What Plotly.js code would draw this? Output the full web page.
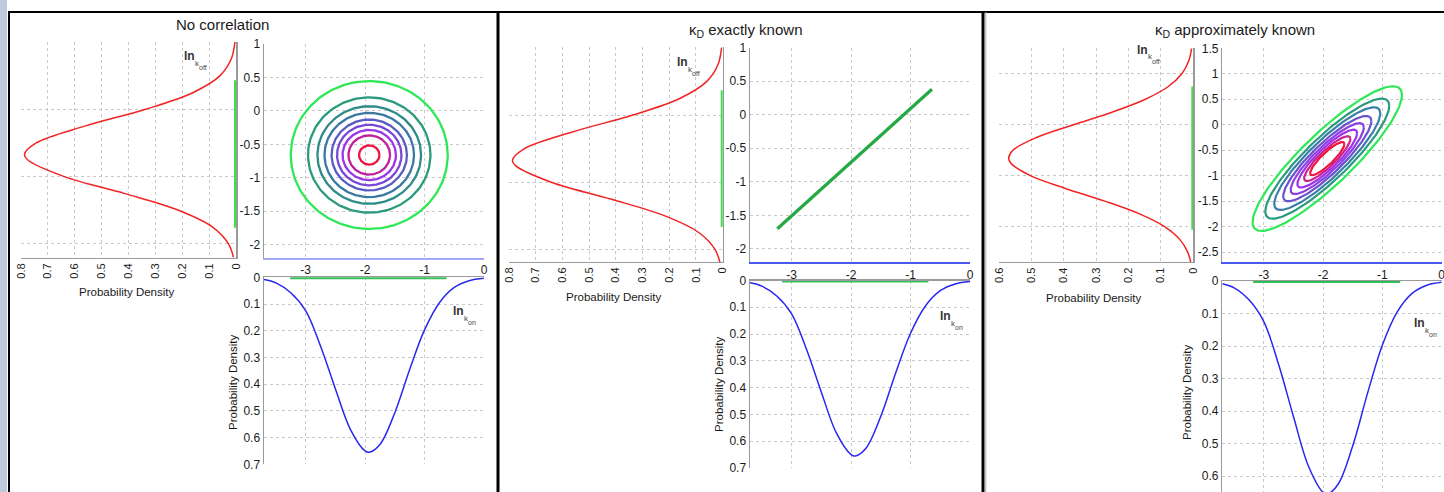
<!DOCTYPE html>
<html><head><meta charset="utf-8">
<script src="https://cdn.plot.ly/plotly-3.0.1.min.js"></script>
<style>html,body{margin:0;padding:0;background:#fff;overflow:hidden}#c{width:1444px;height:492px}</style>
</head><body><div id="c"></div><script>
// ---- data ----
const konX   = [-3.7,-3.5,-3.25,-3,-2.75,-2.5,-2.25,-2,-1.93,-1.75,-1.5,-1.25,-1,-0.75,-0.5,-0.25,0];
const konPdf = [0.0085,0.021,0.058,0.125,0.257,0.417,0.568,0.650,0.655,0.626,0.507,0.345,0.197,0.095,0.038,0.013,0.004];
const koffY   = [1.0,0.75,0.5,0.25,0,-0.25,-0.5,-0.67,-0.75,-1.0,-1.25,-1.5,-1.75,-2.0,-2.2];
const koffPdf = [0.0041,0.0175,0.0593,0.159,0.3365,0.5627,0.7434,0.787,0.7756,0.639,0.416,0.214,0.087,0.0279,0.0095];
const koffY3   = [1.5,1.25,1.0,0.75,0.5,0.25,0,-0.25,-0.5,-0.65,-0.75,-1.0,-1.25,-1.5,-1.75,-2.0,-2.25,-2.5,-2.7];
const koffPdf3 = [0.0051,0.0143,0.0354,0.0771,0.148,0.249,0.370,0.484,0.557,0.570,0.564,0.503,0.395,0.273,0.166,0.0888,0.0418,0.0173,0.0078];

// contour rings: centre, outer half-extents, correlation, relative sizes
const ring1Center = [-1.93, -0.66];
const ring1Outer  = [1.32, 1.105];
const ring1Rho    = 0;
const ring1Scale  = [1, 0.78, 0.66, 0.57, 0.48, 0.41, 0.34, 0.265, 0.13];
const ring1Colors = ['#2ee858','#2a9a7c','#2d8c88','#3a78a4','#5a5cc4','#7a46d8','#9a36e8','#c0209a','#ee1240'];
const ring3Center = [-1.93, -0.665];
const ring3Outer  = [1.26, 1.42];
const ring3Rho    = 0.88;
const ring3Scale  = [1, 0.83, 0.71, 0.59, 0.49, 0.40, 0.31, 0.23];
const ring3Colors = ['#2ee858','#2a9a7c','#3a7eaa','#6a52cc','#8c40e0','#a030ee','#cc2288','#ee1240'];

// panel 2 line (exactly known)
const lineX = [-3.24, -0.64];
const lineY = [-1.70, 0.38];

// green projections of the outer contour on the marginal axes
const seg1Y = [-1.76, 0.43], seg1X = [-3.26, -0.63];
const seg2Y = [-1.66, 0.37], seg2X = [-3.16, -0.70];
const seg3Y = [-2.06, 0.75], seg3X = [-3.18, -0.70];

// tick labels
const jXvals = [-3,-2,-1,0], jXtext = ['-3','-2','-1','0'];
const j1Yvals = [1,0.5,0,-0.5,-1,-1.5,-2], j1Ytext = ['1','0.5','0','-0.5','-1','-1.5','-2'];
const j3Yvals = [1.5,1,0.5,0,-0.5,-1,-1.5,-2,-2.5], j3Ytext = ['1.5','1','0.5','0','-0.5','-1','-1.5','-2','-2.5'];
const pdfVals = [0,0.1,0.2,0.3,0.4,0.5,0.6,0.7], pdfText = ['0','0.1','0.2','0.3','0.4','0.5','0.6','0.7'];
const pdfVals8 = [0.8,0.7,0.6,0.5,0.4,0.3,0.2,0.1,0], pdfText8 = ['0.8','0.7','0.6','0.5','0.4','0.3','0.2','0.1','0'];
const pdfVals6 = [0.6,0.5,0.4,0.3,0.2,0.1,0], pdfText6 = ['0.6','0.5','0.4','0.3','0.2','0.1','0'];

// ---- layout helpers ----
const W=1444,H=492;
function dx(a,b){return [a/W,b/W];}
function dy(t,b){return [1-b/H,1-t/H];}
const FONT='"Liberation Sans", Arial, sans-serif';
const GRID='#c8c8c8', SPINE='#9a9a9a';
function ax(o){
  const base={showgrid:true,gridcolor:GRID,griddash:'dot',gridwidth:1,zeroline:false,ticks:'',
    showline:false,fixedrange:true,ticklabeloverflow:'allow',tickfont:{family:FONT,size:12,color:'#1a1a1a'}};
  return Object.assign(base,o);
}
function arr(v,t){return {tickmode:'array',tickvals:v,ticktext:t};}

function ellipse(c,outer,rho,s){
  const xs=[],ys=[],q=Math.sqrt(1-rho*rho),n=180;
  for(let i=0;i<=n;i++){const t=2*Math.PI*i/n;
    xs.push(c[0]+s*outer[0]*Math.cos(t));
    ys.push(c[1]+s*outer[1]*(rho*Math.cos(t)+q*Math.sin(t)));}
  return [xs,ys];
}

const traces=[];
function panel(k, koY, koP, segY, segX, segCol){
  const xl='x'+(k*3+1===1?'':k*3+1), yl='y'+(k*3+1===1?'':k*3+1);
  const xb='x'+(k*3+3), yb='y'+(k*3+3);
  traces.push({x:koP,y:koY,xaxis:xl,yaxis:yl,mode:'lines',line:{color:'#f02424',width:1.5,shape:'spline'},hoverinfo:'skip'});
  traces.push({x:[0,0],y:segY,xaxis:xl,yaxis:yl,mode:'lines',line:{color:'#3ee04c',width:4},hoverinfo:'skip'});
  traces.push({x:konX,y:konPdf,xaxis:xb,yaxis:yb,mode:'lines',line:{color:'#2828f0',width:1.5,shape:'spline'},hoverinfo:'skip'});
  traces.push({x:segX,y:[0,0],xaxis:xb,yaxis:yb,mode:'lines',line:{color:segCol,width:4},hoverinfo:'skip'});
}
panel(0,koffY,koffPdf,seg1Y,seg1X,'#34c058');
panel(1,koffY,koffPdf,seg2Y,seg2X,'#34c058');
panel(2,koffY3,koffPdf3,seg3Y,seg3X,'#34c058');

ring1Scale.forEach((s,i)=>{const e=ellipse(ring1Center,ring1Outer,ring1Rho,s);
  traces.push({x:e[0],y:e[1],xaxis:'x2',yaxis:'y2',mode:'lines',line:{color:ring1Colors[i],width:2.3},hoverinfo:'skip'});});
traces.push({x:lineX,y:lineY,xaxis:'x5',yaxis:'y5',mode:'lines',line:{color:'#26a844',width:3.2},hoverinfo:'skip'});
ring3Scale.forEach((s,i)=>{const e=ellipse(ring3Center,ring3Outer,ring3Rho,s);
  traces.push({x:e[0],y:e[1],xaxis:'x8',yaxis:'y8',mode:'lines',line:{color:ring3Colors[i],width:2.2},hoverinfo:'skip'});});

const layout={width:W,height:H,margin:{l:0,r:0,t:0,b:0},paper_bgcolor:'#ffffff',plot_bgcolor:'rgba(0,0,0,0)',showlegend:false,
  // panel 1
  xaxis: ax(Object.assign({domain:dx(21,236),range:[0.8,0],anchor:'y',tickangle:-90,showline:true,linecolor:SPINE,linewidth:1,tickfont:{family:FONT,size:11,color:'#1a1a1a'}},arr(pdfVals8,pdfText8))),
  yaxis: ax({domain:dy(42,258),range:[-2.21,1.0],anchor:'x',side:'right',dtick:1,tick0:0,showticklabels:false,showline:true,linecolor:SPINE,linewidth:1.5}),
  xaxis2:ax(Object.assign({domain:dx(264,484),range:[-3.7,0],anchor:'y2',showline:true,linecolor:'#a4a9f6',linewidth:2},arr(jXvals,jXtext))),
  yaxis2:ax(Object.assign({domain:dy(44,258),range:[-2.2,1.0],anchor:'x2',showline:true,linecolor:SPINE,linewidth:1.5},arr(j1Yvals,j1Ytext))),
  xaxis3:ax(Object.assign({domain:dx(264,484),range:[-3.7,0],anchor:'y3',side:'top',showticklabels:false,showline:true,linecolor:SPINE,linewidth:1.5},arr(jXvals,jXtext))),
  yaxis3:ax(Object.assign({domain:dy(277.3,464.3),range:[0.7,0],anchor:'x3',showline:true,linecolor:SPINE,linewidth:1.5},arr(pdfVals,pdfText))),
  // panel 2
  xaxis4:ax(Object.assign({domain:dx(509,722.7),range:[0.8,0],anchor:'y4',tickangle:-90,showline:true,linecolor:SPINE,linewidth:1,tickfont:{family:FONT,size:11,color:'#1a1a1a'}},arr(pdfVals8,pdfText8))),
  yaxis4:ax({domain:dy(47,262),range:[-2.18,1.01],anchor:'x4',side:'right',dtick:1,tick0:0,showticklabels:false,showline:true,linecolor:SPINE,linewidth:1.5}),
  xaxis5:ax(Object.assign({domain:dx(750,970),range:[-3.7,0],anchor:'y5',showline:true,linecolor:'#4a5af0',linewidth:2},arr(jXvals,jXtext))),
  yaxis5:ax(Object.assign({domain:dy(47.7,262.3),range:[-2.2,1.0],anchor:'x5',showline:true,linecolor:SPINE,linewidth:1.5},arr(j1Yvals,j1Ytext))),
  xaxis6:ax(Object.assign({domain:dx(750,970),range:[-3.7,0],anchor:'y6',side:'top',showticklabels:false,showline:true,linecolor:SPINE,linewidth:1.5},arr(jXvals,jXtext))),
  yaxis6:ax(Object.assign({domain:dy(280.5,468),range:[0.7,0],anchor:'x6',showline:true,linecolor:SPINE,linewidth:1.5},arr(pdfVals,pdfText))),
  // panel 3
  xaxis7:ax(Object.assign({domain:dx(999,1193.3),range:[0.6,0],anchor:'y7',tickangle:-90,showline:true,linecolor:SPINE,linewidth:1,tickfont:{family:FONT,size:11,color:'#1a1a1a'}},arr(pdfVals6,pdfText6))),
  yaxis7:ax({domain:dy(48.3,262.3),range:[-2.7,1.5],anchor:'x7',side:'right',dtick:1,tick0:0,showticklabels:false,showline:true,linecolor:SPINE,linewidth:1.5}),
  xaxis8:ax(Object.assign({domain:dx(1222.3,1441.7),range:[-3.7,0],anchor:'y8',showline:true,linecolor:'#4a5af0',linewidth:2},arr(jXvals,jXtext))),
  yaxis8:ax(Object.assign({domain:dy(48.3,262.3),range:[-2.7,1.5],anchor:'x8',showline:true,linecolor:SPINE,linewidth:1.5},arr(j3Yvals,j3Ytext))),
  xaxis9:ax(Object.assign({domain:dx(1222.3,1441.7),range:[-3.7,0],anchor:'y9',side:'top',showticklabels:false,showline:true,linecolor:SPINE,linewidth:1.5},arr(jXvals,jXtext))),
  yaxis9:ax(Object.assign({domain:dy(281,492),range:[0.649,0],anchor:'x9',showline:true,linecolor:SPINE,linewidth:1.5},arr(pdfVals,pdfText))),
  shapes:[
    {type:'rect',xref:'paper',yref:'paper',x0:0,x1:7/W,y0:0,y1:1,fillcolor:'#bccbdc',line:{width:0},layer:'below'},
    {type:'line',xref:'paper',yref:'paper',x0:8/W,x1:1,y0:1-12/H,y1:1-12/H,line:{color:'#000',width:2}},
    {type:'line',xref:'paper',yref:'paper',x0:9/W,x1:9/W,y0:0,y1:1-12/H,line:{color:'#000',width:2}},
    {type:'line',xref:'paper',yref:'paper',x0:498/W,x1:498/W,y0:0,y1:1-12/H,line:{color:'#000',width:3}},
    {type:'line',xref:'paper',yref:'paper',x0:983/W,x1:983/W,y0:0,y1:1-12/H,line:{color:'#000',width:3}},
    {type:'line',xref:'paper',yref:'paper',x0:985.8/W,x1:985.8/W,y0:0,y1:1-12/H,line:{color:'#aaa',width:1}}
  ],
  annotations:[]
};
function txt(t,x,y,size,o){return Object.assign({text:t,xref:'paper',yref:'paper',x:x/W,y:1-y/H,showarrow:false,xanchor:'center',yanchor:'middle',font:{family:FONT,size:size,color:'#1a1a1a'}},o||{});}
const A=layout.annotations;
A.push(txt('No correlation',222,25,15));
A.push(txt('κ<sub>D</sub> exactly known',745,31,15));
A.push(txt('κ<sub>D</sub> approximately known',1235,31,15));
[[126,292],[613,297],[1093,298]].forEach(p=>A.push(txt('Probability Density',p[0],p[1],11.5)));
[[233,383],[719,385],[1187,393]].forEach(p=>A.push(txt('Probability Density',p[0],p[1],11.5,{textangle:-90})));
function lnLabel(x,y,sub){
  A.push(txt('<b>ln</b>',x,y,12,{font:{family:FONT,size:12,color:'#333'}}));
  A.push(txt('k',x+8,y+7,8,{font:{family:FONT,size:8,color:'#444'}}));
  A.push(txt(sub,x+14,y+11,7,{font:{family:FONT,size:7,color:'#444'}}));
}
lnLabel(189,56,'off'); lnLabel(458,311,'on');
lnLabel(682,62,'off'); lnLabel(945,316,'on');
lnLabel(1142,50,'off'); lnLabel(1419,323,'on');

Plotly.newPlot('c',traces,layout,{staticPlot:true,displayModeBar:false});
</script></body></html>
